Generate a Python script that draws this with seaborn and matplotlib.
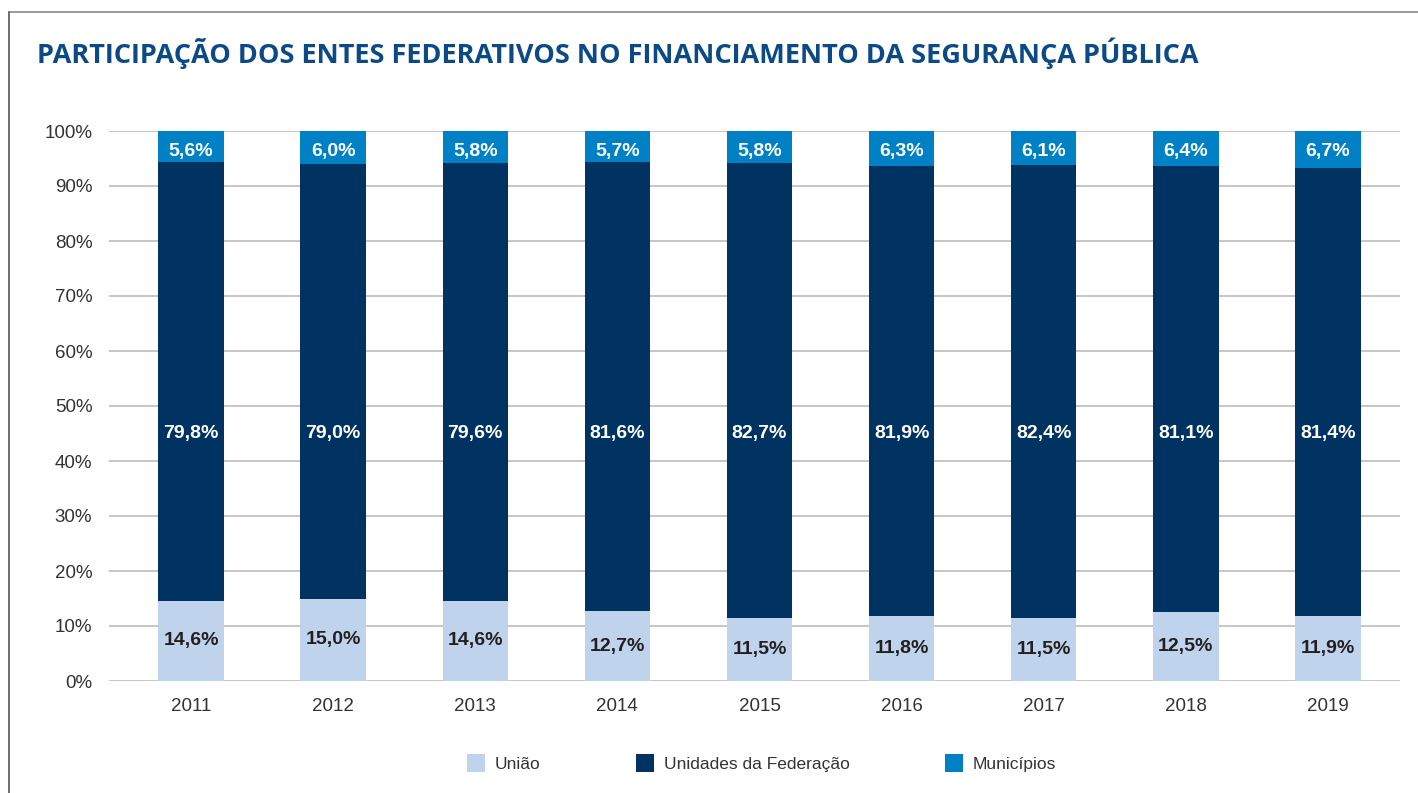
import matplotlib
matplotlib.use("Agg")
import matplotlib.pyplot as plt
from matplotlib.lines import Line2D
from matplotlib.patches import Patch
import numpy as np
import pandas as pd
import seaborn as sns

# Shares (%) of each federative level in public-security spending
anos = ["2011", "2012", "2013", "2014", "2015", "2016", "2017", "2018", "2019"]
uniao = [14.6, 15.0, 14.6, 12.7, 11.5, 11.8, 11.5, 12.5, 11.9]
unidades_federacao = [79.8, 79.0, 79.6, 81.6, 82.7, 81.9, 82.4, 81.1, 81.4]
municipios = [5.6, 6.0, 5.8, 5.7, 5.8, 6.3, 6.1, 6.4, 6.7]
series_nomes = ["União", "Unidades da Federação", "Municípios"]
yticks = [0, 10, 20, 30, 40, 50, 60, 70, 80, 90, 100]

cores = ["#bfd3ec", "#003361", "#0081c6"]
titulo_cor = "#0b4a86"
texto_cor = "#333333"

sns.set_theme(style="white")
plt.rcParams["font.family"] = ["Liberation Sans", "DejaVu Sans"]

df = pd.DataFrame({
    "ano": anos,
    "uniao": uniao,
    "uf": unidades_federacao,
    "mun": municipios,
})
df["topo_uniao"] = df["uniao"]
df["topo_uf"] = df["uniao"] + df["uf"]
df["topo_mun"] = df["topo_uf"] + df["mun"]

fig = plt.figure(figsize=(14.18, 7.93), dpi=100)
ax = fig.add_axes([109 / 1418, 1 - 681 / 793, (1400 - 109) / 1418, 550 / 793])

largura = 0.46
# stacked bars: draw cumulative tops from the tallest layer down
for col, cor in zip(["topo_mun", "topo_uf", "topo_uniao"], cores[::-1]):
    sns.barplot(data=df, x="ano", y=col, color=cor, width=largura,
                saturation=1, ax=ax, zorder=3, linewidth=0)

ax.set_ylim(0, 100)
ax.set_xlim(-0.577, len(anos) - 1 + 0.507)
ax.set_yticks(yticks)
ax.set_yticklabels([f"{t}%" for t in yticks])
ax.set_xlabel("")
ax.set_ylabel("")
for s in ax.spines.values():
    s.set_visible(False)
ax.grid(axis="y", color="#c6c6c6", linewidth=1.4, zorder=0)
ax.tick_params(axis="y", length=0, pad=12, labelsize=13.5, labelcolor=texto_cor)
ax.tick_params(axis="x", length=0, pad=12, labelsize=13.5, labelcolor=texto_cor)

fmt = lambda v: f"{v:.1f}%".replace(".", ",")
bold = dict(fontsize=14, fontweight="bold", ha="center", va="center", zorder=5)
for i, r in df.iterrows():
    ax.text(i, r["uniao"] / 2, fmt(r["uniao"]), color="#231f20", **bold)
    ax.text(i, 45, fmt(r["uf"]), color="white", **bold)
    ax.text(i, r["topo_mun"] - 3.7, fmt(r["mun"]), color="white", **bold)

# title
fig.text(37 / 1418, 1 - 53 / 793,
         "PARTICIPAÇÃO DOS ENTES FEDERATIVOS NO FINANCIAMENTO DA SEGURANÇA PÚBLICA",
         fontsize=19.5, fontweight="bold", color=titulo_cor, va="center", ha="left",
         family=["Open Sans", "DejaVu Sans"])

# outer frame lines (top and left)
fig.add_artist(Line2D([9 / 1418, 1], [1 - 12 / 793, 1 - 12 / 793],
                      transform=fig.transFigure, color="#8a8a8a", lw=1.2))
fig.add_artist(Line2D([9 / 1418, 9 / 1418], [0, 1 - 12 / 793],
                      transform=fig.transFigure, color="#555555", lw=1.2))

# legend
handles = [Patch(facecolor=c, edgecolor="none") for c in cores]
fig.legend(handles, series_nomes, loc="center left",
           bbox_to_anchor=(467 / 1418, 1 - 763 / 793), ncol=3, frameon=False,
           fontsize=12.5, handlelength=1.03, handleheight=1.2, handletextpad=0.57,
           columnspacing=5.5, labelcolor=texto_cor, borderaxespad=0, borderpad=0)

fig.savefig("out.png", dpi=100, facecolor="white")
